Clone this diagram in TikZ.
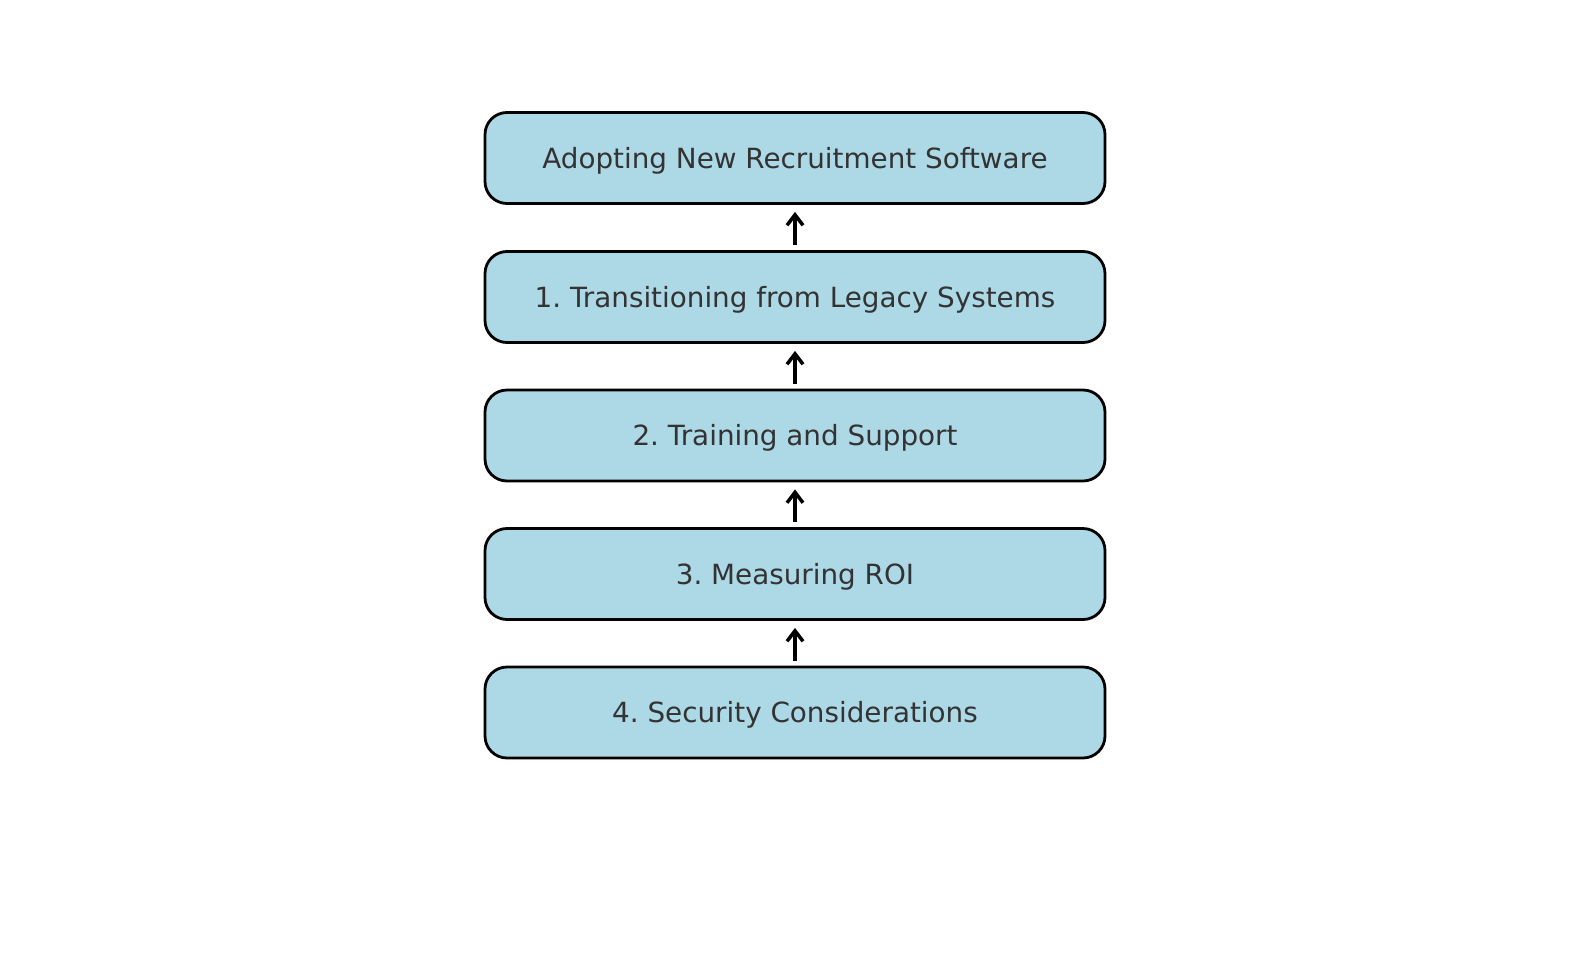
\documentclass[tikz,border=0pt]{standalone}
\usepackage{fontspec}
\setmainfont{DejaVu Sans}
\frenchspacing
\usetikzlibrary{arrows.meta}
\definecolor{boxfill}{HTML}{ADD8E6}
\definecolor{txt}{HTML}{333333}
\begin{document}
\begin{tikzpicture}[x=1pt,y=-1pt,
  stepbox/.style={draw=black, line width=2.8pt, fill=boxfill, rounded corners=22pt,
    minimum width=620pt, minimum height=91pt, text=txt, inner sep=0pt,
    text height=20.2pt, text depth=0pt,
    font=\fontsize{27.8}{33}\selectfont},
  conn/.style={line width=3.5pt, -{Straight Barb[length=10.5pt,width=16pt,line width=3.5pt]}, shorten <=5pt, shorten >=7pt}]
\useasboundingbox (0,0) rectangle (1589,964);
\node[stepbox] (n0) at (795,158) {Adopting New Recruitment Software};
\node[stepbox] (n1) at (795,297) {1. Transitioning from Legacy Systems};
\node[stepbox] (n2) at (795,435.5) {2. Training and Support};
\node[stepbox] (n3) at (795,574) {3. Measuring ROI};
\node[stepbox] (n4) at (795,712.5) {4. Security Considerations};
\draw[conn] (n1) -- (n0);
\draw[conn] (n2) -- (n1);
\draw[conn] (n3) -- (n2);
\draw[conn] (n4) -- (n3);
\end{tikzpicture}
\end{document}
